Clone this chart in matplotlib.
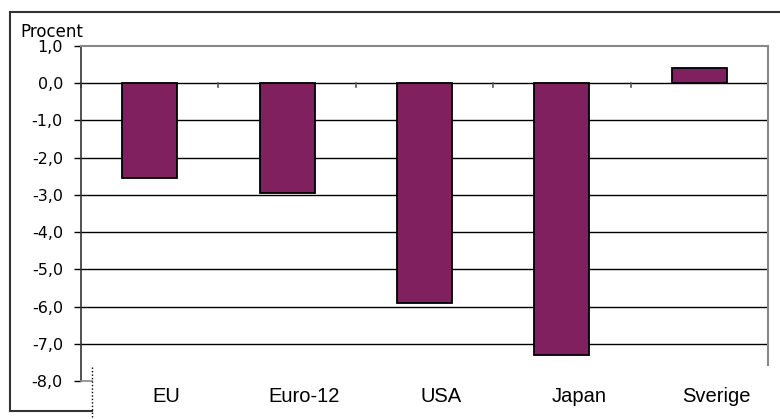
import matplotlib.pyplot as plt
from matplotlib.lines import Line2D
from matplotlib.transforms import blended_transform_factory, offset_copy

# data
categories = ["EU", "Euro-12", "USA", "Japan", "Sverige"]
values = [-2.55, -2.95, -5.9, -7.3, 0.4]
yticks = [1, 0, -1, -2, -3, -4, -5, -6, -7, -8]

BAR = "#80205f"
W, H = 780, 419

plt.rcParams["font.family"] = ["DejaVu Sans"]

fig = plt.figure(figsize=(W / 100, H / 100), dpi=100)
ax = fig.add_axes([81 / W, (H - 381) / H, 687 / W, 335 / H])

x = list(range(len(categories)))
ax.bar(x, values, width=0.4, color=BAR, edgecolor="black", linewidth=1.3, zorder=3)

ax.set_xlim(-0.5, len(categories) - 0.5)
ax.set_ylim(-8, 1)

# gridlines -7..0 (the -8 line is hidden by the label area)
for v in yticks:
    if -8 < v < 1:
        ax.axhline(v, color="black", lw=1.0, zorder=1)

# category separators on the zero line
for b in [i + 0.5 for i in range(-1, len(categories))]:
    ax.plot([b, b], [0, -0.11], color="#555555", lw=1.2, zorder=2, clip_on=False)

ax.set_yticks(yticks)
ax.set_yticklabels([f"{v:.1f}".replace(".", ",") for v in yticks], fontsize=11.5)
ax.tick_params(axis="y", direction="out", length=5, width=1, pad=8)
ax.set_xticks([])

for s in ["top", "right"]:
    ax.spines[s].set_color("#888888")
    ax.spines[s].set_linewidth(1.5)
ax.spines["right"].set_bounds(-7.58, 1)
ax.spines["left"].set_color("#333333")
ax.spines["left"].set_linewidth(1.2)
ax.spines["bottom"].set_color("#888888")
ax.spines["bottom"].set_linewidth(1.2)
ax.spines["bottom"].set_bounds(-0.5, -0.42)

# category labels below the plot area, sitting a little right of the bars
tr = blended_transform_factory(ax.transData, fig.transFigure)
tr = offset_copy(tr, fig=fig, x=17, y=0, units="dots")
for xi, c in zip(x, categories):
    fig.text(xi, (H - 396) / H, c, transform=tr, ha="center", va="center",
             fontsize=14.5, family="Liberation Sans")

fig.text(20 / W, (H - 37) / H, "Procent", ha="left", va="baseline", fontsize=12)

# outer chart frame (partly covered by the label box)
frame = dict(color="#333333", lw=1.5, transform=fig.transFigure)
fig.add_artist(Line2D([10 / W, 1], [1 - 12 / H, 1 - 12 / H], **frame))
fig.add_artist(Line2D([10 / W, 10 / W], [1 - 12 / H, 1 - 411 / H], **frame))
fig.add_artist(Line2D([10 / W, 92 / W], [1 - 411 / H, 1 - 411 / H], **frame))
fig.add_artist(Line2D([92 / W, 92 / W], [1 - 367 / H, 0], color="black", lw=1.0,
                      ls=(0, (1, 1.5)), transform=fig.transFigure))

fig.savefig("out.png", dpi=100)
